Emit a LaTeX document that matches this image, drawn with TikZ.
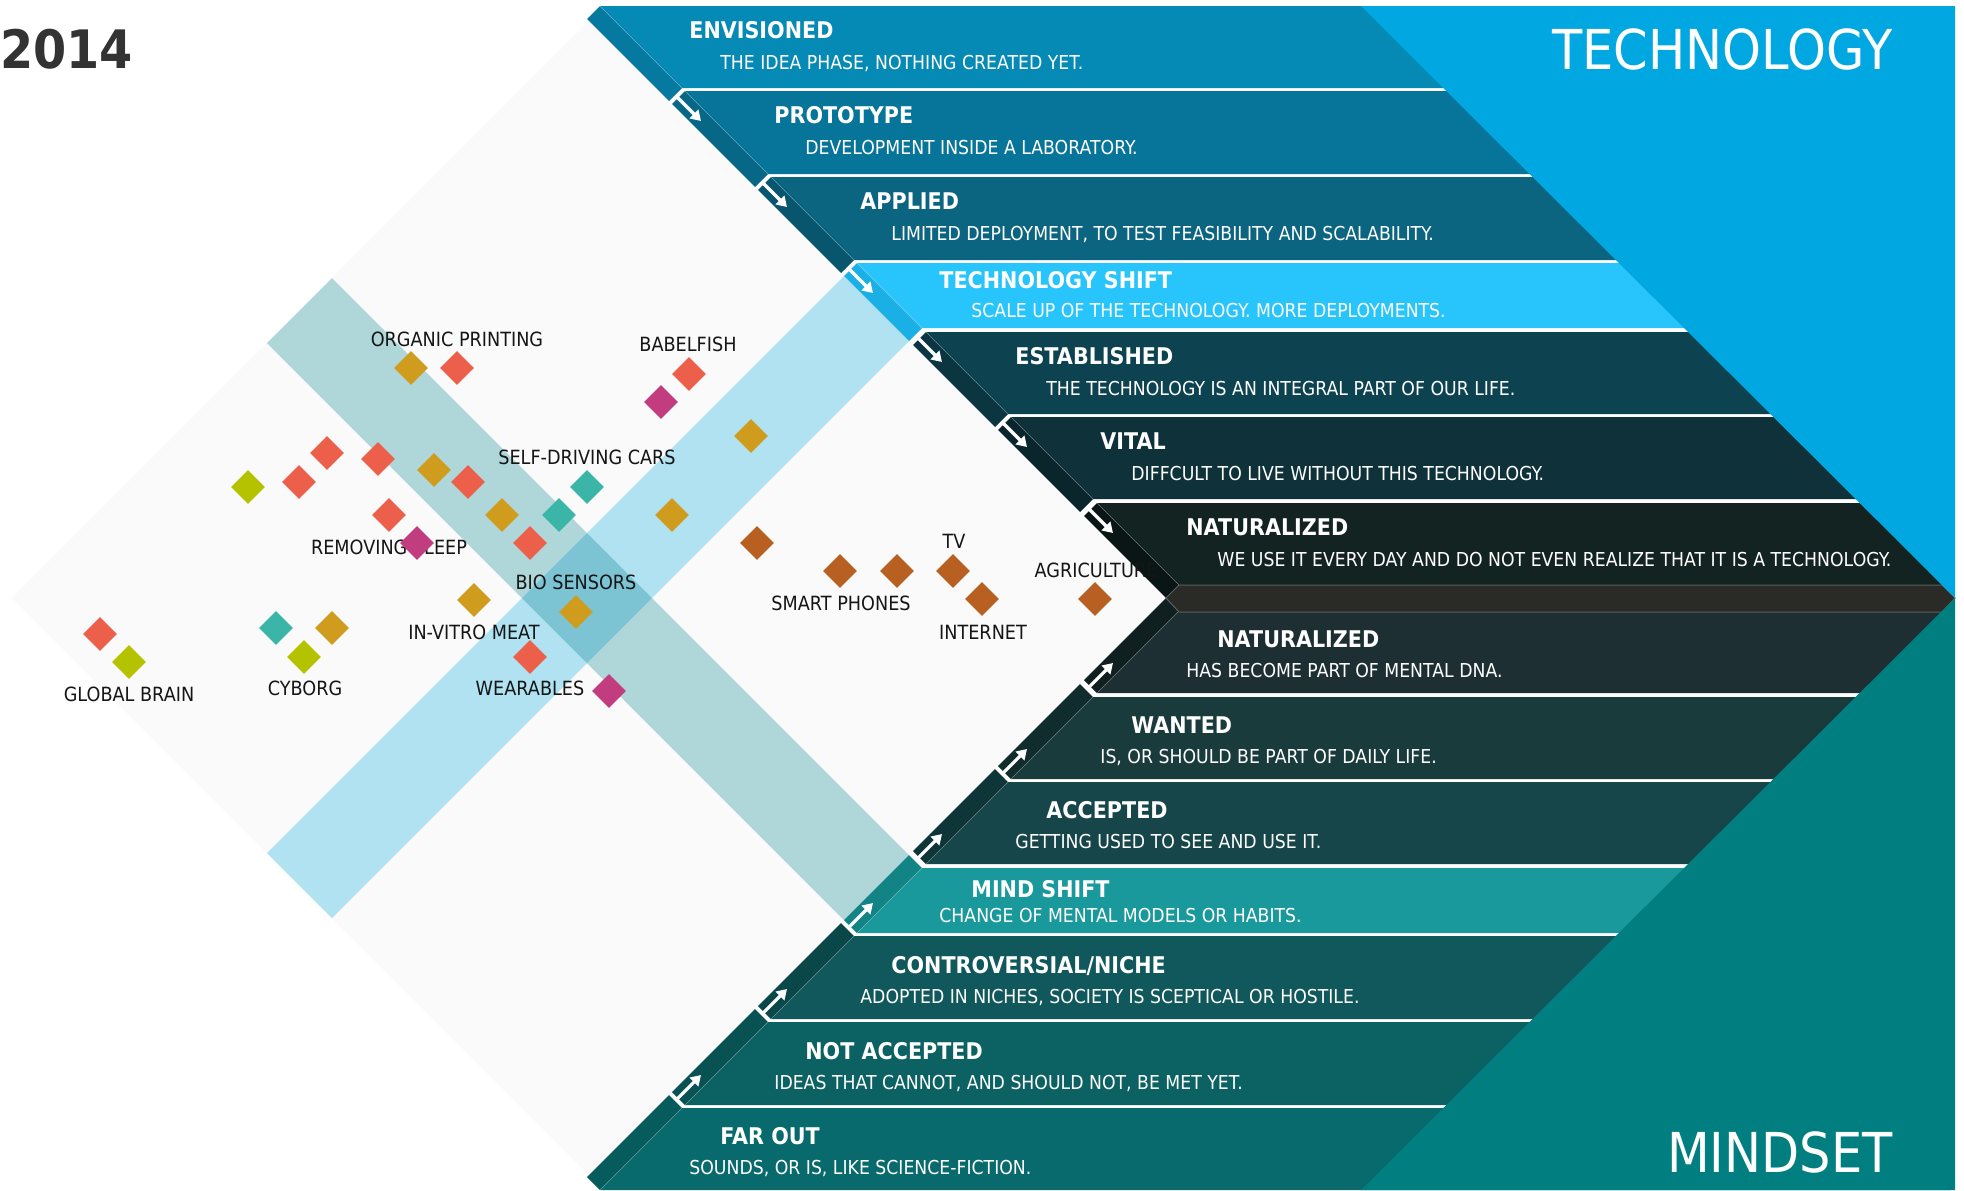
\documentclass[tikz,border=0pt]{standalone}
\usepackage{fontspec}
\setmainfont{DejaVu Sans}[FakeStretch=0.9]
\usetikzlibrary{shapes.geometric,arrows.meta}
\definecolor{cA}{HTML}{0589B5}\definecolor{sA}{HTML}{0679A1}
\definecolor{cB}{HTML}{07759A}\definecolor{sB}{HTML}{066787}
\definecolor{cC}{HTML}{0B6580}\definecolor{sC}{HTML}{08566E}
\definecolor{cD}{HTML}{27C5FB}\definecolor{sD}{HTML}{1BB0E5}
\definecolor{cE}{HTML}{0D4351}\definecolor{sE}{HTML}{0A3541}
\definecolor{cF}{HTML}{0F323A}\definecolor{sF}{HTML}{0A252B}
\definecolor{cG}{HTML}{132321}\definecolor{sG}{HTML}{0A1615}
\definecolor{midc}{HTML}{2A2A26}\definecolor{midl}{HTML}{5A605E}
\definecolor{cH}{HTML}{1D2F32}\definecolor{sH}{HTML}{102021}
\definecolor{cI}{HTML}{1A3B3C}\definecolor{sI}{HTML}{102C2D}
\definecolor{cJ}{HTML}{17464A}\definecolor{sJ}{HTML}{0E3538}
\definecolor{cK}{HTML}{19999B}\definecolor{sK}{HTML}{128486}
\definecolor{cL}{HTML}{10585B}\definecolor{sL}{HTML}{0A4749}
\definecolor{cM}{HTML}{0C6163}\definecolor{sM}{HTML}{095253}
\definecolor{cN}{HTML}{086A6C}\definecolor{sN}{HTML}{065B5C}
\definecolor{techc}{HTML}{00A7E1}\definecolor{mindc}{HTML}{017E7F}
\definecolor{graybg}{HTML}{FAFAFA}
\definecolor{xteal}{HTML}{AFD6D8}\definecolor{xblue}{HTML}{B0E2F2}\definecolor{xover}{HTML}{7CC4D3}
\definecolor{dred}{HTML}{EC5F4A}\definecolor{dgold}{HTML}{CF9C1E}\definecolor{dmag}{HTML}{C23D7F}
\definecolor{dteal}{HTML}{3AB5A8}\definecolor{dlime}{HTML}{B5C200}\definecolor{dbrown}{HTML}{B85F22}
\definecolor{labelc}{HTML}{151515}\definecolor{yearc}{HTML}{333333}
\newcommand\topband[4]{%
  \fill[#3] ({594+#1},#1) -- (1950,#1) -- (1950,#2) -- ({594+#2},#2) -- cycle;
  \fill[#4] ({594+#1},#1) -- ({594+#2},#2) -- ({581+#2},{#2+13}) -- ({581+#1},{#1+13}) -- cycle;
  \draw[white,opacity=0.3,line width=0.3pt] ({594+#1},#1) -- ({594+#2},#2);}
\newcommand\botband[4]{%
  \fill[#3] ({594+#1},{1196-#1}) -- (1950,{1196-#1}) -- (1950,{1196-#2}) -- ({594+#2},{1196-#2}) -- cycle;
  \fill[#4] ({594+#1},{1196-#1}) -- ({594+#2},{1196-#2}) -- ({581+#2},{1183-#2}) -- ({581+#1},{1183-#1}) -- cycle;
  \draw[white,opacity=0.3,line width=0.3pt] ({594+#1},{1196-#1}) -- ({594+#2},{1196-#2});}
\newcommand\toparrow[1]{\draw[warr] ({#1+585},{#1+5}) -- ({#1+610},{#1+30});}
\newcommand\botarrow[1]{\draw[warr] ({#1+585},{1191-#1}) -- ({#1+610},{1166-#1});}
\begin{document}
\begin{tikzpicture}[x=0.5pt,y=-0.5pt,
  ttl/.style={text=white,font=\bfseries\fontsize{11.5}{13}\selectfont,anchor=base west,inner sep=0pt},
  dsc/.style={text=white,font=\fontsize{9.6}{11}\selectfont,anchor=base west,inner sep=0pt},
  lbl/.style={text=labelc,font=\fontsize{9.8}{11}\selectfont,anchor=base,inner sep=0pt},
  big/.style={text=white,font=\fontsize{27.5}{30}\selectfont,anchor=base east,inner sep=0pt},
  dia/.style={diamond,aspect=1,minimum width=17pt,minimum height=17pt,inner sep=0pt},
  warr/.style={white,line width=1.6pt,-{Triangle[width=6pt,length=5pt]}}]
\useasboundingbox (0,0) rectangle (1964,1190);
\fill[white] (0,0) rectangle (1964,1190);
% background diamond
\fill[graybg] (12,598) -- (589,21) -- (1166,598) -- (589,1175) -- cycle;
% X bands
\fill[xteal] (332,278) -- (909,855) -- (844,920) -- (267,343) -- cycle;
\fill[xblue] (267,853) -- (844,276) -- (909,341) -- (332,918) -- cycle;
\fill[xover] (587,533) -- (652,598) -- (587,663) -- (522,598) -- cycle;
% technology bands
\topband{6}{88}{cA}{sA}
\topband{91}{174}{cB}{sB}
\topband{177}{260}{cC}{sC}
\topband{263}{328}{cD}{sD}
\topband{332}{414}{cE}{sE}
\topband{417}{499}{cF}{sF}
\topband{503}{585}{cG}{sG}
% mindset bands
\botband{503}{585}{cH}{sH}
\botband{417}{499}{cI}{sI}
\botband{332}{414}{cJ}{sJ}
\botband{263}{328}{cK}{sK}
\botband{177}{260}{cL}{sL}
\botband{91}{174}{cM}{sM}
\botband{6}{88}{cN}{sN}
% middle band
\fill[midc,draw=midl,line width=0.5pt] (1166,598) -- (1179,585) -- (1942,585) -- (1955,598) -- (1942,612) -- (1179,612) -- cycle;
% corner triangles
\fill[techc] (1361,6) -- (1955,6) -- (1955,598) -- cycle;
\fill[mindc] (1955,598) -- (1955,1190) -- (1361,1190) -- cycle;
% arrows
\toparrow{91}\toparrow{177}\toparrow{263}\toparrow{332}\toparrow{417}\toparrow{503}
\botarrow{91}\botarrow{177}\botarrow{263}\botarrow{332}\botarrow{417}\botarrow{503}
% titles
\node[text=yearc,font=\bfseries\fontsize{26.5}{30}\selectfont,anchor=base west,inner sep=0pt] (year) at (0,68) {2014};
\node[big] (tech) at (1893,69) {TECHNOLOGY};
\node[big] (mind) at (1893,1172) {MINDSET};
% band texts (technology)
\node[ttl] (t1) at (689,38) {ENVISIONED};
\node[dsc] (d1) at (720,69) {THE IDEA PHASE, NOTHING CREATED YET.};
\node[ttl] (t2) at (774,123) {PROTOTYPE};
\node[dsc] (d2) at (805,154) {DEVELOPMENT INSIDE A LABORATORY.};
\node[ttl] (t3) at (860,209) {APPLIED};
\node[dsc] (d3) at (891,240) {LIMITED DEPLOYMENT, TO TEST FEASIBILITY AND SCALABILITY.};
\node[ttl] (t4) at (939,288) {TECHNOLOGY SHIFT};
\node[dsc] (d4) at (971,317) {SCALE UP OF THE TECHNOLOGY. MORE DEPLOYMENTS.};
\node[ttl] (t5) at (1015,364) {ESTABLISHED};
\node[dsc] (d5) at (1046,395) {THE TECHNOLOGY IS AN INTEGRAL PART OF OUR LIFE.};
\node[ttl] (t6) at (1100,449) {VITAL};
\node[dsc] (d6) at (1131,480) {DIFFCULT TO LIVE WITHOUT THIS TECHNOLOGY.};
\node[ttl] (t7) at (1186,535) {NATURALIZED};
\node[dsc] (d7) at (1217,566) {WE USE IT EVERY DAY AND DO NOT EVEN REALIZE THAT IT IS A TECHNOLOGY.};
% band texts (mindset)
\node[ttl] (m1) at (1217,647) {NATURALIZED};
\node[dsc] (e1) at (1186,677) {HAS BECOME PART OF MENTAL DNA.};
\node[ttl] (m2) at (1131,733) {WANTED};
\node[dsc] (e2) at (1100,763) {IS, OR SHOULD BE PART OF DAILY LIFE.};
\node[ttl] (m3) at (1046,818) {ACCEPTED};
\node[dsc] (e3) at (1015,848) {GETTING USED TO SEE AND USE IT.};
\node[ttl] (m4) at (971,897) {MIND SHIFT};
\node[dsc] (e4) at (939,922) {CHANGE OF MENTAL MODELS OR HABITS.};
\node[ttl] (m5) at (891,973) {CONTROVERSIAL/NICHE};
\node[dsc] (e5) at (860,1003) {ADOPTED IN NICHES, SOCIETY IS SCEPTICAL OR HOSTILE.};
\node[ttl] (m6) at (805,1059) {NOT ACCEPTED};
\node[dsc] (e6) at (774,1089) {IDEAS THAT CANNOT, AND SHOULD NOT, BE MET YET.};
\node[ttl] (m7) at (720,1144) {FAR OUT};
\node[dsc] (e7) at (689,1174) {SOUNDS, OR IS, LIKE SCIENCE-FICTION.};
% labels
\node[lbl] (l1) at (457,346) {ORGANIC PRINTING};
\node[lbl] (l2) at (688,351) {BABELFISH};
\node[lbl] (l3) at (587,464) {SELF-DRIVING CARS};
\node[lbl] (l4) at (389,554) {REMOVING SLEEP};
\node[lbl] (l5) at (576,589) {BIO SENSORS};
\node[lbl] (l6) at (474,639) {IN-VITRO MEAT};
\node[lbl] (l7) at (530,695) {WEARABLES};
\node[lbl] (l8) at (129,701) {GLOBAL BRAIN};
\node[lbl] (l9) at (305,695) {CYBORG};
\node[lbl] (l10) at (954,548) {TV};
\node[lbl] (l11) at (1096,577) {AGRICULTURE};
\node[lbl] (l12) at (841,610) {SMART PHONES};
\node[lbl] (l13) at (983,639) {INTERNET};
% data points
\node[dia,fill=dgold] (p1) at (411,368) {};
\node[dia,fill=dred] (p2) at (457,368) {};
\node[dia,fill=dred] (p3) at (689,374) {};
\node[dia,fill=dmag] (p4) at (661,402) {};
\node[dia,fill=dgold] (p5) at (751,436) {};
\node[dia,fill=dteal] (p6) at (587,487) {};
\node[dia,fill=dteal] (p7) at (559,515) {};
\node[dia,fill=dgold] (p8) at (672,515) {};
\node[dia,fill=dbrown] (p9) at (757,543) {};
\node[dia,fill=dred] (p10) at (327,453) {};
\node[dia,fill=dred] (p11) at (378,459) {};
\node[dia,fill=dlime] (p12) at (248,487) {};
\node[dia,fill=dred] (p13) at (299,482) {};
\node[dia,fill=dgold] (p14) at (434,470) {};
\node[dia,fill=dred] (p15) at (468,482) {};
\node[dia,fill=dred] (p16) at (389,515) {};
\node[dia,fill=dgold] (p17) at (502,515) {};
\node[dia,fill=dmag] (p18) at (417,543) {};
\node[dia,fill=dred] (p19) at (530,543) {};
\node[dia,fill=dgold] (p20) at (474,600) {};
\node[dia,fill=dgold] (p21) at (576,612) {};
\node[dia,fill=dred] (p22) at (530,657) {};
\node[dia,fill=dmag] (p23) at (609,691) {};
\node[dia,fill=dred] (p24) at (100,634) {};
\node[dia,fill=dlime] (p25) at (129,662) {};
\node[dia,fill=dteal] (p26) at (276,628) {};
\node[dia,fill=dgold] (p27) at (332,628) {};
\node[dia,fill=dlime] (p28) at (304,657) {};
\node[dia,fill=dbrown] (p29) at (840,571) {};
\node[dia,fill=dbrown] (p30) at (897,571) {};
\node[dia,fill=dbrown] (p31) at (953,571) {};
\node[dia,fill=dbrown] (p32) at (982,599) {};
\node[dia,fill=dbrown] (p33) at (1095,599) {};
\end{tikzpicture}
\end{document}
